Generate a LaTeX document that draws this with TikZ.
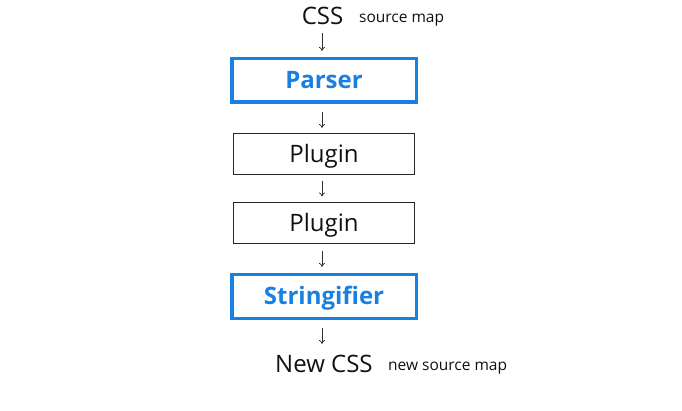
\documentclass[tikz,border=0pt]{standalone}
\usepackage{fontspec}
\setmainfont{Open Sans}
\usetikzlibrary{arrows.meta}
\definecolor{pblue}{RGB}{24,128,226}
\definecolor{txt}{RGB}{17,17,17}
\tikzset{
  bluebox/.style={draw=pblue, line width=3.5pt, minimum width=184.5pt, minimum height=43.5pt, inner sep=0pt, text height=17pt, text depth=0pt, text=pblue, font=\fontsize{24}{28}\selectfont\bfseries},
  plainbox/.style={draw=black!85, line width=1pt, minimum width=181pt, minimum height=41pt, inner sep=0pt, text height=17pt, text depth=0pt, text=txt, font=\fontsize{24}{28}\selectfont},
  bigtext/.style={text=txt, inner sep=0pt, font=\fontsize{24}{28}\selectfont},
  smalltext/.style={text=txt, inner sep=0pt, font=\fontsize{15.5}{18}\selectfont},
  flow/.style={-{To[length=4pt,width=6pt]}, line width=0.8pt, black!80}
}
\begin{document}
\begin{tikzpicture}[x=1pt,y=1pt]
\useasboundingbox (0,0) rectangle (682,-411);
\node[bigtext, anchor=base] (css) at (322.5,-25) {CSS};
\node[smalltext, anchor=base west] (sm) at (359,-23) {source map};
\node[bluebox] (parser) at (324,-80.5) {Parser};
\node[plainbox] (p1) at (324,-154) {Plugin};
\node[plainbox] (p2) at (324,-223.5) {Plugin};
\node[bluebox] (str) at (324,-296.5) {Stringifier};
\node[bigtext, anchor=base west] (ncss) at (275,-372) {New CSS};
\node[smalltext, anchor=base west] (nsm) at (388,-370) {new source map};
\coordinate (a1s) at (322,-33);
\coordinate (a1e) at (322,-51);
\draw[flow] (a1s) -- (a1e);
\draw[flow] ([xshift=-2pt,yshift=-8pt]parser.south) -- ([xshift=-2pt,yshift=5pt]p1.north);
\draw[flow] ([xshift=-2pt,yshift=-6pt]p1.south) -- ([xshift=-2pt,yshift=6pt]p2.north);
\draw[flow] ([xshift=-2pt,yshift=-7pt]p2.south) -- ([xshift=-2pt,yshift=6pt]str.north);
\coordinate (a5e) at (322,-344);
\draw[flow] ([xshift=-2pt,yshift=-8pt]str.south) -- (a5e);
\end{tikzpicture}
\end{document}
